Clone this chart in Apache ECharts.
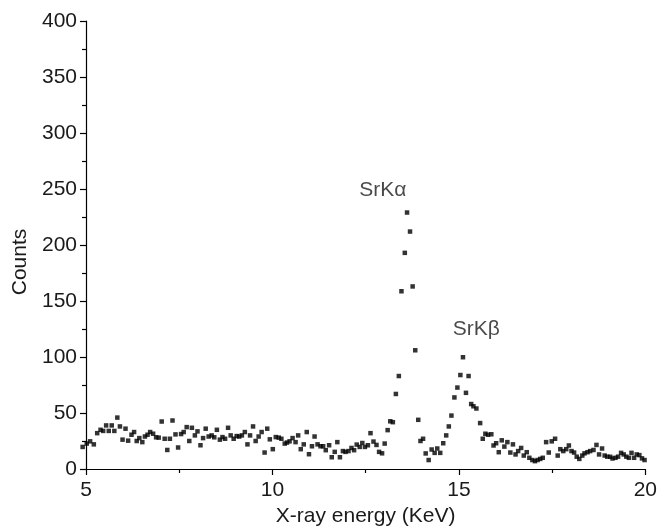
<!DOCTYPE html>
<html>
<head>
<meta charset="utf-8">
<script src="https://cdn.jsdelivr.net/npm/echarts@6/dist/echarts.min.js"></script>
<style>
  html, body { margin: 0; padding: 0; background: #fff; }
  #chart { width: 660px; height: 532px; }
</style>
</head>
<body>
<div id="chart"></div>
<script>
// X-ray energy (keV) of each channel
var energies = [
  4.91, 5.02, 5.11, 5.21, 5.30, 5.39, 5.46, 5.54, 5.61, 5.69,
  5.76, 5.84, 5.91, 5.98, 6.06, 6.13, 6.22, 6.29, 6.36, 6.43,
  6.51, 6.58, 6.65, 6.72, 6.80, 6.88, 6.95, 7.03, 7.11, 7.18,
  7.25, 7.32, 7.40, 7.47, 7.55, 7.62, 7.70, 7.77, 7.84, 7.92,
  7.99, 8.07, 8.14, 8.21, 8.29, 8.37, 8.44, 8.51, 8.59, 8.66,
  8.73, 8.81, 8.88, 8.96, 9.04, 9.11, 9.18, 9.26, 9.33, 9.40,
  9.48, 9.55, 9.63, 9.71, 9.79, 9.86, 9.93, 10.01, 10.09, 10.17,
  10.24, 10.33, 10.39, 10.46, 10.54, 10.62, 10.69, 10.76, 10.84, 10.92,
  10.98, 11.06, 11.13, 11.21, 11.29, 11.36, 11.43, 11.52, 11.59, 11.67,
  11.74, 11.81, 11.89, 11.96, 12.04, 12.12, 12.19, 12.26, 12.34, 12.41,
  12.48, 12.56, 12.63, 12.71, 12.79, 12.86, 12.94, 13.01, 13.09, 13.16,
  13.23, 13.31, 13.39, 13.46, 13.55, 13.61, 13.69, 13.76, 13.83, 13.91,
  13.97, 14.04, 14.11, 14.19, 14.27, 14.35, 14.42, 14.50, 14.58, 14.66,
  14.73, 14.80, 14.88, 14.96, 15.04, 15.11, 15.19, 15.26, 15.33, 15.39,
  15.47, 15.57, 15.64, 15.71, 15.78, 15.87, 15.93, 16.00, 16.07, 16.15,
  16.22, 16.30, 16.38, 16.45, 16.52, 16.59, 16.67, 16.74, 16.82, 16.89,
  16.97, 17.04, 17.11, 17.18, 17.25, 17.34, 17.41, 17.49, 17.58, 17.65,
  17.72, 17.80, 17.88, 17.95, 18.02, 18.09, 18.16, 18.23, 18.31, 18.37,
  18.45, 18.52, 18.61, 18.69, 18.76, 18.84, 18.91, 18.98, 19.06, 19.12,
  19.20, 19.27, 19.35, 19.42, 19.49, 19.56, 19.63, 19.70, 19.77, 19.84,
  19.91, 19.98
];
// Counts in each channel
var counts = [
  19.7, 22.7, 24.7, 22, 32, 35, 34, 38.9, 34, 38.9,
  34, 45.9, 38, 26.2, 36, 25.3, 30.6, 33, 25, 27.6,
  24, 29, 30.6, 33, 31.5, 28.3, 28, 42.4, 27, 17,
  27, 43.3, 30.9, 19.2, 31.2, 33, 37.4, 25, 36.8, 30,
  33.6, 21.2, 27.6, 36, 29, 30, 28.3, 35, 26.2, 28.5,
  27, 36.8, 30, 27, 29.4, 29, 30, 33, 22, 30,
  38, 25, 29, 33, 14.7, 36, 26.5, 17.7, 28.5, 28,
  27, 22.7, 23.6, 24.7, 27.6, 24, 30, 17.7, 22, 33,
  13.2, 20.3, 29, 22, 20.3, 20.3, 16.8, 21.2, 10.5, 15.3,
  24, 10.5, 16, 15.3, 16, 18.8, 16.8, 21.8, 19.7, 23.2,
  19.7, 21.2, 32, 24.5, 21.5, 15.3, 14, 22.7, 34.7, 42.6,
  41.8, 67, 83, 158.7, 193, 229, 212, 163, 106, 43.9,
  25, 27, 13.9, 8, 17.4, 14.4, 18.3, 14.4, 23, 30,
  38, 47.7, 63.9, 72.7, 83.9, 99.8, 68, 83, 58, 56,
  54, 41, 27, 31.5, 30.6, 31, 21, 23, 15, 25.6,
  20, 24, 14.7, 22, 13, 16, 18.8, 12, 15, 10,
  8, 7, 8, 9, 10, 24, 14.7, 24.7, 27, 12,
  17.7, 16, 17.7, 21, 16, 14.7, 11, 9, 12, 14,
  15, 16, 17, 21.5, 13, 18.3, 12, 11, 10.9, 9.4,
  10, 11, 14.4, 13, 11, 10, 14.4, 10, 13, 12.4,
  9.5, 8
];
var xTicks = [5, 10, 15, 20];
var yTicks = [0, 50, 100, 150, 200, 250, 300, 350, 400];
var peakNames = ['SrK\u03b1', 'SrK\u03b2'];

var FONT = '"Liberation Sans", Arial, Helvetica, sans-serif';
var TXT = '#1a1a1a';
var FS = 21;

var points = energies.map(function (e, i) { return [e, counts[i]]; });

var chart = echarts.init(document.getElementById('chart'), null, { renderer: 'canvas' });
var axisCommon = {
  axisLine: { show: true, onZero: false, lineStyle: { color: '#000', width: 1.2 } },
  axisTick: { show: true, inside: false, length: 6, lineStyle: { color: '#000', width: 1.2 } },
  minorTick: { show: true, splitNumber: 2, length: 4, lineStyle: { color: '#000', width: 1.2 } },
  splitLine: { show: false },
  minorSplitLine: { show: false },
  axisLabel: { color: TXT, fontSize: FS, fontFamily: FONT, margin: 9 },
  nameTextStyle: { color: TXT, fontSize: FS, fontFamily: FONT }
};
chart.setOption({
  animation: false,
  backgroundColor: '#fff',
  grid: { left: 86, right: 14, top: 21, bottom: 58, containLabel: false },
  xAxis: Object.assign({}, axisCommon, {
    type: 'value',
    min: xTicks[0], max: xTicks[xTicks.length - 1], interval: 5,
    name: 'X-ray energy (KeV)', nameLocation: 'middle', nameGap: 37,
    axisLabel: Object.assign({}, axisCommon.axisLabel, { margin: 11 })
  }),
  yAxis: Object.assign({}, axisCommon, {
    type: 'value',
    min: yTicks[0], max: yTicks[yTicks.length - 1], interval: 50,
    name: 'Counts', nameLocation: 'middle', nameGap: 55, nameRotate: 90,
    nameTextStyle: Object.assign({}, axisCommon.nameTextStyle, { padding: [0, 0, 0, -34] })
  }),
  series: [
    {
      type: 'scatter',
      data: points,
      symbol: 'rect',
      symbolSize: 4.5,
      clip: false,
      itemStyle: { color: '#000' }
    },
    {
      type: 'scatter',
      data: [
        { name: peakNames[0], value: [12.96, 249] },
        { name: peakNames[1], value: [15.47, 125] }
      ],
      symbolSize: 0,
      silent: true,
      label: {
        show: true, position: 'inside', formatter: '{b}',
        color: TXT, fontSize: FS, fontFamily: FONT
      }
    }
  ]
});
</script>
</body>
</html>
